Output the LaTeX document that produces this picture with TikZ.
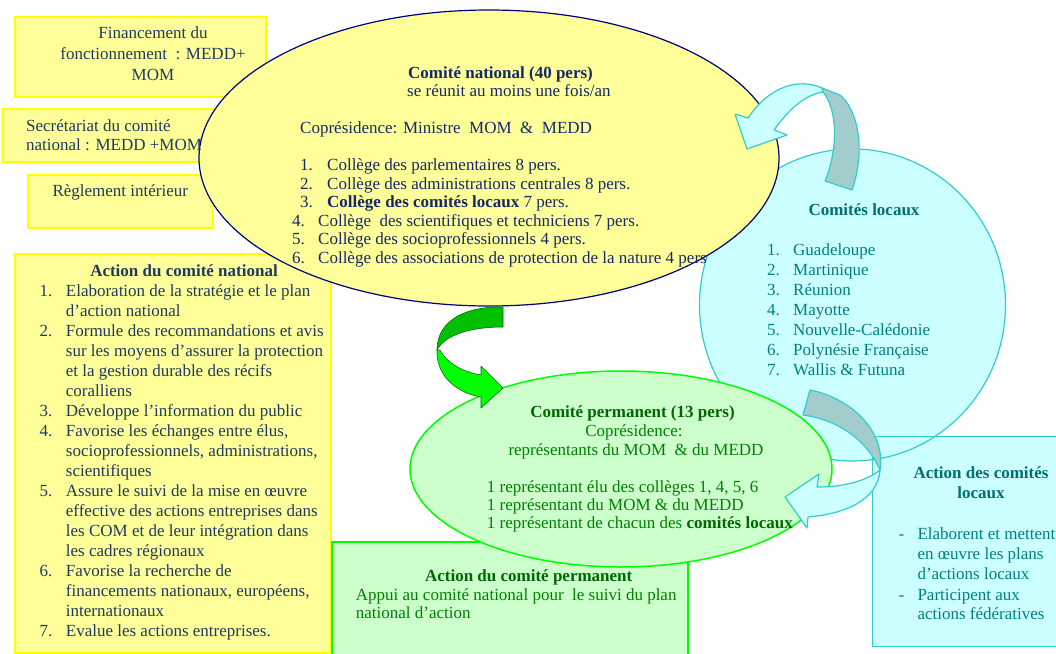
\documentclass[tikz,border=0pt]{standalone}
\usepackage{fontspec}
\setmainfont{Liberation Serif}
\usetikzlibrary{shapes.geometric}
\definecolor{fillyel}{HTML}{FFFF99}
\definecolor{boxyel}{HTML}{FFFF00}
\definecolor{navyline}{HTML}{000080}
\definecolor{boxtxt}{HTML}{1F3A60}
\definecolor{elltxt}{HTML}{14286A}
\definecolor{cyanfill}{HTML}{CCFFFF}
\definecolor{cyanline}{HTML}{33CCCC}
\definecolor{grayband}{HTML}{A3CCCC}
\definecolor{tealtxt}{HTML}{008080}
\definecolor{tealbold}{HTML}{007070}
\definecolor{greenfill}{HTML}{CCFFCC}
\definecolor{greenline}{HTML}{00FF00}
\definecolor{greentxt}{HTML}{008000}
\definecolor{greenbold}{HTML}{006600}
\definecolor{arrdark}{HTML}{00C000}
\definecolor{arrlight}{HTML}{00FF00}
\definecolor{arredge}{HTML}{007000}
\begin{document}
\begin{tikzpicture}[x=1pt,y=-1pt,
  ybox/.style={draw=boxyel, fill=fillyel, line width=1.5pt, inner sep=0pt, anchor=north west},
  gbox/.style={draw=greenline, fill=greenfill, line width=1.5pt, inner sep=0pt, anchor=north west},
  cbox/.style={draw=cyanline, fill=cyanfill, line width=1.2pt, inner sep=0pt, anchor=north west},
  txt/.style={anchor=base west, inner sep=0pt, font=\fontsize{17}{20}\selectfont},
  ctxt/.style={anchor=base, inner sep=0pt, font=\fontsize{17}{20}\selectfont},
  cyanarrow/.style={fill=cyanfill, draw=cyanline, line width=1.2pt, line join=round},
  grayarrow/.style={fill=grayband, draw=cyanline, line width=1.2pt, line join=round},
]
\useasboundingbox (0,0) rectangle (1056,653);

% ---- boxes ----
\node[ybox, minimum width=251pt, minimum height=80pt] (fin) at (14,16) {};
\node[ybox, minimum width=240pt, minimum height=53pt] (sec) at (2,108) {};
\node[ybox, minimum width=185pt, minimum height=53pt] (reg) at (27,174) {};
\node[ybox, minimum width=316pt, minimum height=399pt] (actn) at (14,253) {};
\node[gbox, minimum width=356pt, minimum height=120pt] (actp) at (331,541) {};
\node[cbox, minimum width=200pt, minimum height=210pt, draw=none] (actl) at (872,436) {};

% ---- comites locaux (circle) ----
\node[ellipse, draw=cyanline, fill=cyanfill, line width=1.2pt, minimum width=306pt, minimum height=312pt, inner sep=0pt] (loc) at (852.5,305) {};
\node[cbox, minimum width=200pt, minimum height=210pt, fill=none] (actlb) at (872,436) {};

% ---- comite national ----
\node[ellipse, draw=navyline, fill=fillyel, line width=1.2pt, minimum width=580pt, minimum height=296pt, inner sep=0pt] (nat) at (489,158) {};

% ---- comite permanent ----
\node[ellipse, draw=greenline, fill=greenfill, line width=1.5pt, minimum width=422pt, minimum height=196pt, inner sep=0pt] (perm) at (621,469) {};

% ---- arrow locaux -> national ----
\coordinate (upTip) at (747,149);
\path[cyanarrow] (822,88) .. controls (800,78) and (770,85) .. (748,118) -- (735,114) -- (upTip) -- (787,135) -- (774,130) .. controls (790,108) and (805,95) .. (823,92) -- cycle;
\path[grayarrow] (822,88) -- (840,95) .. controls (858,110) and (866,150) .. (852,190) -- (825,181) .. controls (838,150) and (838,110) .. (823,92) -- cycle;

% ---- arrow locaux -> permanent ----
\coordinate (lowTip) at (785,497);
\path[grayarrow] (810,390) .. controls (850,398) and (886,430) .. (880,470) .. controls (868,442) and (840,420) .. (803,415) -- cycle;
\path[cyanarrow] (880,470) .. controls (878,500) and (845,514) .. (808,517) -- (807,528) -- (lowTip) -- (819,474) -- (817,487) .. controls (845,487) and (868,480) .. (880,470) -- cycle;

% ---- green arrow national -> permanent ----
\coordinate (greenTip) at (503,388);
\path[fill=arrdark, draw=arredge, line width=0.6pt, line join=round] (503,307) .. controls (470,306) and (437,318) .. (437,350) .. controls (445,335) and (470,327) .. (503,327) -- cycle;
\path[fill=arrlight, draw=arredge, line width=0.6pt, line join=round] (437,350) .. controls (436,372) and (452,392) .. (481,397) -- (481,408) -- (greenTip) -- (481,366) -- (481,375) .. controls (462,372) and (446,362) .. (440,350) -- cycle;

% ---- texts: small boxes ----
\begin{scope}[every node/.append style={text=boxtxt}]
\node[ctxt] (fin1) at (153,38) {Financement du};
\node[ctxt] (fin2) at (153,59.3) {fonctionnement\ \ : MEDD+};
\node[ctxt] (fin3) at (153,80) {MOM};
\node[txt] (sec1) at (26,131) {Secrétariat du comité};
\node[txt] (sec2) at (26,150) {national : MEDD +MOM};
\node[txt] (reg1) at (52.3,196.7) {Règlement intérieur};
% action du comite national
\node[ctxt, font=\fontsize{17}{20}\selectfont\bfseries] (actnT) at (184,276) {Action du comité national};
\foreach \n/\y [count=\i] in {1/296, 2/336, 3/416, 4/436, 5/496, 6/576, 7/636}
  \node[txt] (actnN\i) at (39.3,\y) {\n.};
\foreach \y/\t [count=\i] in {296/{Elaboration de la stratégie et le plan},
  316/{d’action national},
  336/{Formule des recommandations et avis},
  356/{sur les moyens d’assurer la protection},
  376/{et la gestion durable des récifs},
  396/{coralliens},
  416/{Développe l’information du public},
  436/{Favorise les échanges entre élus,},
  456/{socioprofessionnels, administrations,},
  476/{scientifiques},
  496/{Assure le suivi de la mise en œuvre},
  516/{effective des actions entreprises dans},
  536/{les COM et de leur intégration dans},
  556/{les cadres régionaux},
  576/{Favorise la recherche de},
  596/{financements nationaux, européens,},
  616/{internationaux},
  636/{Evalue les actions entreprises.}}
  \node[txt] (actnL\i) at (65.7,\y) {\t};
\end{scope}

% ---- texts: comite national ----
\begin{scope}[every node/.append style={text=elltxt}]
\node[txt, font=\fontsize{17}{20}\selectfont\bfseries] (natT) at (408,78) {Comité national (40 pers)};
\node[txt] (natS) at (407,96.7) {se réunit au moins une fois/an};
\node[txt] (natC) at (300,133) {Coprésidence: Ministre\ \ MOM\ \ \&\ \ MEDD};
\node[txt] (natN1) at (300,170.7) {1.};
\node[txt] (natL1) at (327,170.7) {Collège des parlementaires 8 pers.};
\node[txt] (natN2) at (300,189.2) {2.};
\node[txt] (natL2) at (327,189.2) {Collège des administrations centrales 8 pers.};
\node[txt] (natN3) at (300,207.7) {3.};
\node[txt] (natL3) at (327,207.7) {\textbf{Collège des comités locaux} 7 pers.};
\node[txt] (natN4) at (292,226.2) {4.};
\node[txt] (natL4) at (318,226.2) {Collège\ \ des scientifiques et techniciens 7 pers.};
\node[txt] (natN5) at (292,244.7) {5.};
\node[txt] (natL5) at (318,244.7) {Collège des socioprofessionnels 4 pers.};
\node[txt] (natN6) at (292,263.2) {6.};
\node[txt] (natL6) at (318,263.2) {Collège des associations de protection de la nature 4 pers};
\end{scope}

% ---- texts: comites locaux ----
\begin{scope}[every node/.append style={text=tealtxt}]
\node[ctxt, text=tealbold, font=\fontsize{17}{20}\selectfont\bfseries] (locT) at (864,215) {Comités locaux};
\foreach \t [count=\i] in {Guadeloupe, Martinique, Réunion, Mayotte, Nouvelle-Calédonie, Polynésie Française, Wallis \& Futuna} {
  \node[txt] (locN\i) at (767,235.7+20*\i) {\i.};
  \node[txt] (locL\i) at (793,235.7+20*\i) {\t};
}
\node[ctxt, text=tealbold, font=\fontsize{17}{20}\selectfont\bfseries] (actlT1) at (981,478.3) {Action des comités};
\node[ctxt, text=tealbold, font=\fontsize{17}{20}\selectfont\bfseries] (actlT2) at (981,498.3) {locaux};
\node[txt] (actlD1) at (898.3,539.3) {-};
\node[txt] (actlL1) at (917.3,539.3) {Elaborent et mettent};
\node[txt] (actlL2) at (917.3,559.7) {en œuvre les plans};
\node[txt] (actlL3) at (917.3,579.3) {d’actions locaux};
\node[txt] (actlD2) at (898.3,600) {-};
\node[txt] (actlL4) at (917.3,600) {Participent aux};
\node[txt] (actlL5) at (917.3,619.3) {actions fédératives};
\end{scope}

% ---- texts: comite permanent ----
\begin{scope}[every node/.append style={text=greentxt}]
\node[ctxt, text=greenbold, font=\fontsize{17}{20}\selectfont\bfseries] (permT) at (632.5,417.3) {Comité permanent (13 pers)};
\node[ctxt] (permC) at (634,436.7) {Coprésidence:};
\node[ctxt] (permR) at (636,455) {représentants du MOM\ \ \& du MEDD};
\node[txt] (permL1) at (486.7,492.3) {1 représentant élu des collèges 1, 4, 5, 6};
\node[txt] (permL2) at (486.7,510.7) {1 représentant du MOM \& du MEDD};
\node[txt] (permL3) at (486.7,528.3) {1 représentant de chacun des \textcolor{greenbold}{\textbf{comités locaux}}};
\node[ctxt, text=greenbold, font=\fontsize{17}{20}\selectfont\bfseries] (actpT) at (528.7,581.7) {Action du comité permanent};
\node[txt] (actpL1) at (355.7,600) {Appui au comité national pour\ \ le suivi du plan};
\node[txt] (actpL2) at (355.7,618.3) {national d’action};
\end{scope}
\end{tikzpicture}
\end{document}
